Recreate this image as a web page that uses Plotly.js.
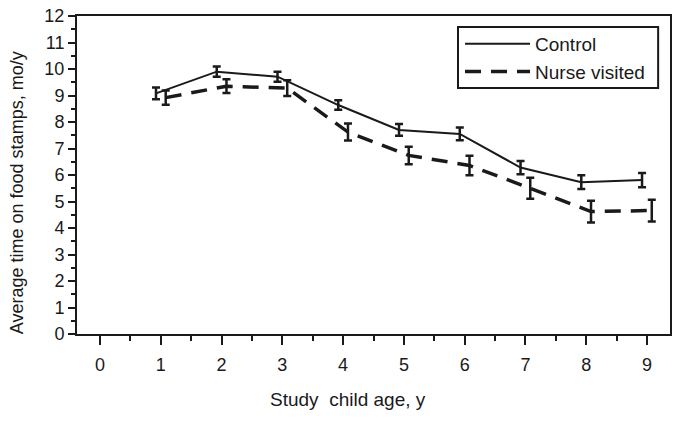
<!DOCTYPE html>
<html>
<head>
<meta charset="utf-8">
<script src="https://cdn.plot.ly/plotly-3.0.1.min.js"></script>
<style>html,body{margin:0;padding:0;background:#fff;}#chart{width:679px;height:422px;}</style>
</head>
<body>
<div id="chart"></div>
<script>
const ages = [1, 2, 3, 4, 5, 6, 7, 8, 9];
const controlMean = [9.08, 9.9, 9.71, 8.64, 7.7, 7.55, 6.28, 5.73, 5.81];
const controlErr = [0.22, 0.19, 0.19, 0.18, 0.22, 0.24, 0.25, 0.26, 0.27];
const nurseMean = [8.92, 9.35, 9.28, 7.62, 6.74, 6.36, 5.5, 4.62, 4.66];
const nurseErr = [0.27, 0.26, 0.3, 0.32, 0.33, 0.37, 0.4, 0.41, 0.41];
const seriesNames = ['Control', 'Nurse visited'];
const xTicks = [0, 1, 2, 3, 4, 5, 6, 7, 8, 9];
const yTicks = [0, 1, 2, 3, 4, 5, 6, 7, 8, 9, 10, 11, 12];
const xTitle = 'Study  child age, y';
const yTitle = 'Average time on food stamps, mo/y';

const shift = 0.08;
const fontFam = 'Liberation Sans, Arial, sans-serif';
const ink = '#1a1a1a';

const traces = [
  {
    x: ages.map(a => a - shift), y: controlMean, name: seriesNames[0],
    type: 'scatter', mode: 'lines',
    line: {color: ink, width: 2},
    error_y: {type: 'data', array: controlErr, visible: true, color: ink, thickness: 2.5, width: 4}
  },
  {
    x: ages.map(a => a + shift), y: nurseMean, name: seriesNames[1],
    type: 'scatter', mode: 'lines',
    line: {color: ink, width: 3.5, dash: '16px,10px'},
    error_y: {type: 'data', array: nurseErr, visible: true, color: ink, thickness: 2.5, width: 4}
  }
];

const layout = {
  width: 679, height: 422,
  margin: {l: 77, r: 9, t: 16, b: 88},
  paper_bgcolor: '#fff', plot_bgcolor: '#fff',
  font: {family: fontFam, color: ink, size: 18},
  showlegend: true,
  legend: {
    x: 0.6459, y: 0.9717, xanchor: 'left', yanchor: 'top',
    borderwidth: 0, bgcolor: 'rgba(0,0,0,0)',
    font: {family: fontFam, size: 19, color: ink},
    itemwidth: 65, tracegroupgap: 0
  },
  shapes: [{
    type: 'rect', xref: 'paper', yref: 'paper',
    x0: 0.6425, x1: 0.98, y0: 0.7736, y1: 0.9654,
    line: {color: ink, width: 2}, fillcolor: 'rgba(0,0,0,0)'
  }],
  annotations: [
    {
      text: yTitle, xref: 'paper', yref: 'paper', x: -0.1012, y: 0.446,
      xanchor: 'center', yanchor: 'middle', textangle: -90, showarrow: false,
      font: {family: fontFam, size: 18, color: ink}
    },
    {
      text: xTitle, xref: 'paper', yref: 'paper', x: 0.457, y: -0.2075,
      xanchor: 'center', yanchor: 'middle', showarrow: false,
      font: {family: fontFam, size: 19, color: ink}
    }
  ],
  xaxis: {
    range: [-0.38, 9.38],
    tickmode: 'array', tickvals: xTicks, ticktext: xTicks.map(String),
    ticks: 'outside', ticklen: 9, tickwidth: 2, tickcolor: ink,
    minor: {dtick: 0.5, tick0: 0, ticks: 'outside', ticklen: 5, tickwidth: 2, tickcolor: ink},
    showline: true, linewidth: 2, linecolor: ink, mirror: true,
    showgrid: false, zeroline: false,
    ticklabelstandoff: 4,
    tickfont: {family: fontFam, size: 18, color: ink}
  },
  yaxis: {
    range: [0, 12],
    tickmode: 'array', tickvals: yTicks, ticktext: yTicks.map(String),
    ticks: 'outside', ticklen: 7, tickwidth: 2, tickcolor: ink,
    minor: {dtick: 0.5, tick0: 0, ticks: 'outside', ticklen: 4, tickwidth: 2, tickcolor: ink},
    showline: true, linewidth: 2, linecolor: ink, mirror: true,
    showgrid: false, zeroline: false,
    tickfont: {family: fontFam, size: 18, color: ink}
  }
};

Plotly.newPlot('chart', traces, layout, {displayModeBar: false, staticPlot: true});
</script>
</body>
</html>
